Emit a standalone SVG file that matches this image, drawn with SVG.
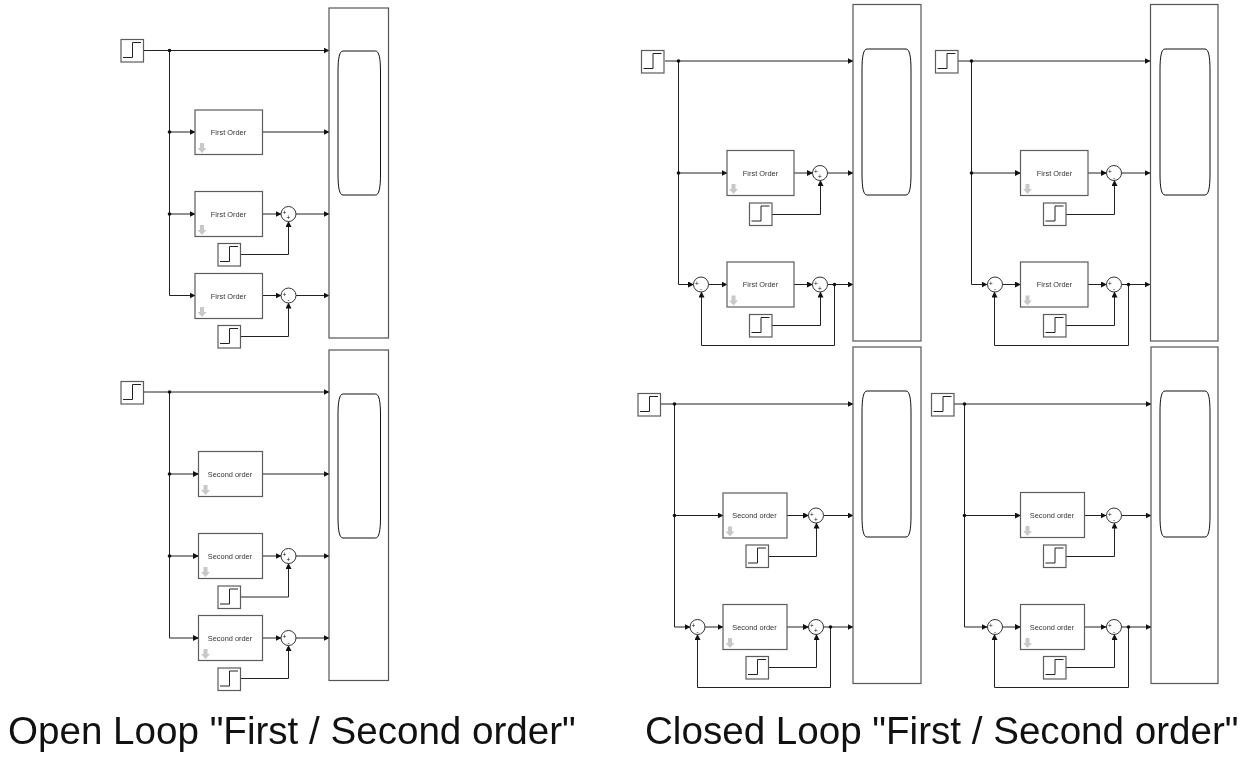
<svg xmlns="http://www.w3.org/2000/svg" width="1253" height="757" viewBox="0 0 1253 757">
<style>
text{font-family:"Liberation Sans",Arial,sans-serif}
.lbl{font-size:7.4px;text-anchor:middle;fill:#333;filter:url(#gs)}
.title{font-size:38.6px;fill:#111;filter:url(#gs)}
.blk{fill:#fff;stroke:#5c5c5c;stroke-width:1.2}
.scope{fill:#fff;stroke:#555;stroke-width:1.2}
.scr{fill:#fff;stroke:#111;stroke-width:1}
.w{fill:none;stroke:#222;stroke-width:1}
.sum{fill:#fff;stroke:#333;stroke-width:1}
.sg{font-size:6.5px;text-anchor:middle;fill:#111;filter:url(#gs)}
.ar{fill:#c8c8c8}
</style>
<defs>
<filter id="gs" x="-20%" y="-40%" width="140%" height="180%" color-interpolation-filters="sRGB"><feOffset dx="0" dy="0"/></filter>
<marker id="a" markerUnits="userSpaceOnUse" markerWidth="6" markerHeight="6" refX="5.500" refY="3" orient="auto"><path d="M0 0L6 3L0 6z" fill="#111"/></marker>
<symbol id="st" overflow="visible"><rect class="blk" x=".5" y=".5" width="22.500" height="22.500"/><path d="M2.500 18.500H12V3.500H20.500" fill="none" stroke="#222" stroke-width="1"/></symbol>
<symbol id="dn" overflow="visible"><path class="ar" d="M2 -.5H6V4.500H8.500L4 9.500L-.5 4.500H2z"/></symbol>
</defs>
<g id="connectors" class="w" marker-end="url(#a)">
<path d="M144 50.500H329"/><path d="M169.500 50.500V295.500H195"/><path d="M169.500 132H195"/><path d="M169.500 214H195"/><path d="M262.500 132H329"/><path d="M262.500 214H281"/><path d="M296 214H329"/><path d="M240 254.500H288.500V221.500"/><path d="M262.500 295.500H281"/><path d="M296 295.500H329"/><path d="M240 336.500H288.500V303"/>
<path d="M144 392H329"/><path d="M169.500 392V638H198.500"/><path d="M169.500 474H198.500"/><path d="M169.500 556H198.500"/><path d="M262.500 474H329"/><path d="M262.500 556H281"/><path d="M296 556H329"/><path d="M240 597H288.500V563.500"/><path d="M262.500 638H281"/><path d="M296 638H329"/><path d="M240 678.500H288.500V645.500"/>
<path d="M665 61H853"/><path d="M678.500 61V284.500H693.500"/><path d="M678.500 173H727"/><path d="M794 173H812.500"/><path d="M827.500 173H853"/><path d="M772 214.500H820.500V180.500"/><path d="M708.500 284.500H727"/><path d="M794 284.500H812.500"/><path d="M827.500 284.500H853"/><path d="M772 325.500H820.500V292"/><path d="M834.500 284.500V345.500H701.500V292"/>
<path d="M958 61H1150"/><path d="M971.500 61V284.500H987"/><path d="M971.500 173H1020.500"/><path d="M1088 173H1106.500"/><path d="M1121.500 173H1150"/><path d="M1066 214.500H1114.500V180.500"/><path d="M1002 284.500H1020.500"/><path d="M1088 284.500H1106.500"/><path d="M1121.500 284.500H1150"/><path d="M1066 325.500H1114.500V292"/><path d="M1128.500 284.500V345.500H994.500V292"/>
<path d="M660.500 404H853"/><path d="M674.500 404V627H690"/><path d="M674.500 515.500H723"/><path d="M787 515.500H808.500"/><path d="M823.500 515.500H853"/><path d="M768.500 556.500H816.500V523"/><path d="M705 627H723"/><path d="M787 627H808.500"/><path d="M823.500 627H853"/><path d="M768.500 667.500H816.500V634.500"/><path d="M830.500 627V687.500H697.500V634.500"/>
<path d="M954 404H1151"/><path d="M964.500 404V627H987"/><path d="M964.500 515.500H1020.500"/><path d="M1084.500 515.500H1106"/><path d="M1121.500 515.500H1151"/><path d="M1066 556.500H1114.500V523"/><path d="M1002.500 627H1020.500"/><path d="M1084.500 627H1106"/><path d="M1121.500 627H1151"/><path d="M1066 667.500H1114.500V634.500"/><path d="M1128.500 627V687.500H994.500V634.500"/>
</g>
<g id="junctions" fill="#111">
<circle cx="169.500" cy="50.500" r="1.800"/><circle cx="169.500" cy="132" r="1.800"/><circle cx="169.500" cy="214" r="1.800"/>
<circle cx="169.500" cy="392" r="1.800"/><circle cx="169.500" cy="474" r="1.800"/><circle cx="169.500" cy="556" r="1.800"/>
<circle cx="678.500" cy="61" r="1.800"/><circle cx="678.500" cy="173" r="1.800"/><circle cx="834.500" cy="284.500" r="1.800"/>
<circle cx="971.500" cy="61" r="1.800"/><circle cx="971.500" cy="173" r="1.800"/><circle cx="1128.500" cy="284.500" r="1.800"/>
<circle cx="674.500" cy="404" r="1.800"/><circle cx="674.500" cy="515.500" r="1.800"/><circle cx="830.500" cy="627" r="1.800"/>
<circle cx="964.500" cy="404" r="1.800"/><circle cx="964.500" cy="515.500" r="1.800"/><circle cx="1128.500" cy="627" r="1.800"/>
</g>
<g id="scope-ol1"><rect class="scope" x="329" y="8" width="59.500" height="330"/><path class="scr" d="M343 51H375.500C379 51 380.500 58 380.500 72V174C380.500 188 379 195 375.500 195H343C339.500 195 338 188 338 174V72C338 58 339.500 51 343 51Z"/></g>
<g id="scope-ol2"><rect class="scope" x="329" y="350" width="59.500" height="330.500"/><path class="scr" d="M343 394H375.500C379 394 380.500 401 380.500 415V517C380.500 531 379 538 375.500 538H343C339.500 538 338 531 338 517V415C338 401 339.500 394 343 394Z"/></g>
<g id="scope-cl1"><rect class="scope" x="853" y="4.500" width="68" height="336.500"/><path class="scr" d="M867 49H906C909.500 49 911 56 911 70V174C911 188 909.500 195 906 195H867C863.500 195 862 188 862 174V70C862 56 863.500 49 867 49Z"/></g>
<g id="scope-cl2"><rect class="scope" x="1150.500" y="4.500" width="67.500" height="336.500"/><path class="scr" d="M1165 49H1205C1208.500 49 1210 56 1210 70V174C1210 188 1208.500 195 1205 195H1165C1161.500 195 1160 188 1160 174V70C1160 56 1161.500 49 1165 49Z"/></g>
<g id="scope-cl3"><rect class="scope" x="853" y="347" width="68" height="336.500"/><path class="scr" d="M867 391H906C909.500 391 911 398 911 412V516C911 530 909.500 537 906 537H867C863.500 537 862 530 862 516V412C862 398 863.500 391 867 391Z"/></g>
<g id="scope-cl4"><rect class="scope" x="1151" y="347" width="67" height="336.500"/><path class="scr" d="M1165 391H1205C1208.500 391 1210 398 1210 412V516C1210 530 1208.500 537 1205 537H1165C1161.500 537 1160 530 1160 516V412C1160 398 1161.500 391 1165 391Z"/></g>
<g id="step1"><use href="#st" x="120.500" y="39"/></g>
<g id="step2"><use href="#st" x="217.500" y="243"/></g>
<g id="step3"><use href="#st" x="217.500" y="325"/></g>
<g id="step4"><use href="#st" x="120.500" y="381"/></g>
<g id="step5"><use href="#st" x="217.500" y="585.500"/></g>
<g id="step6"><use href="#st" x="217.500" y="667.500"/></g>
<g id="step7"><use href="#st" x="641" y="50"/></g>
<g id="step8"><use href="#st" x="749" y="202.500"/></g>
<g id="step9"><use href="#st" x="749" y="314"/></g>
<g id="step10"><use href="#st" x="935" y="50"/></g>
<g id="step11"><use href="#st" x="1043" y="202.500"/></g>
<g id="step12"><use href="#st" x="1043" y="314"/></g>
<g id="step13"><use href="#st" x="637.500" y="393"/></g>
<g id="step14"><use href="#st" x="745.500" y="544.500"/></g>
<g id="step15"><use href="#st" x="745.500" y="656"/></g>
<g id="step16"><use href="#st" x="931" y="393"/></g>
<g id="step17"><use href="#st" x="1043" y="544.500"/></g>
<g id="step18"><use href="#st" x="1043" y="656"/></g>
<g id="fo1"><rect class="blk" x="195" y="110" width="67.500" height="44.500"/><text class="lbl" x="228.500" y="134.500">First Order</text><use href="#dn" x="198" y="143.500"/></g>
<g id="fo2"><rect class="blk" x="195" y="191.500" width="67.500" height="45"/><text class="lbl" x="228.500" y="216.500">First Order</text><use href="#dn" x="198" y="225.500"/></g>
<g id="fo3"><rect class="blk" x="195" y="273.500" width="67.500" height="45"/><text class="lbl" x="228.500" y="298.500">First Order</text><use href="#dn" x="198" y="307.500"/></g>
<g id="so1"><rect class="blk" x="198.500" y="451.500" width="64" height="45"/><text class="lbl" x="230" y="476.500">Second order</text><use href="#dn" x="201.500" y="485.500"/></g>
<g id="so2"><rect class="blk" x="198.500" y="533.500" width="64" height="45"/><text class="lbl" x="230" y="558.500">Second order</text><use href="#dn" x="201.500" y="567.500"/></g>
<g id="so3"><rect class="blk" x="198.500" y="615.500" width="64" height="45"/><text class="lbl" x="230" y="640.500">Second order</text><use href="#dn" x="201.500" y="649.500"/></g>
<g id="fo4"><rect class="blk" x="727" y="150.500" width="67" height="45"/><text class="lbl" x="760.500" y="175.500">First Order</text><use href="#dn" x="729.500" y="184.500"/></g>
<g id="fo5"><rect class="blk" x="727" y="262" width="67" height="45"/><text class="lbl" x="760.500" y="287">First Order</text><use href="#dn" x="729.500" y="296"/></g>
<g id="fo6"><rect class="blk" x="1020.500" y="150.500" width="67.500" height="45"/><text class="lbl" x="1054.500" y="175.500">First Order</text><use href="#dn" x="1023.500" y="184.500"/></g>
<g id="fo7"><rect class="blk" x="1020.500" y="262" width="67.500" height="45"/><text class="lbl" x="1054.500" y="287">First Order</text><use href="#dn" x="1023.500" y="296"/></g>
<g id="so4"><rect class="blk" x="723" y="493" width="64" height="45"/><text class="lbl" x="754.500" y="518">Second order</text><use href="#dn" x="726" y="527"/></g>
<g id="so5"><rect class="blk" x="723" y="604.500" width="64" height="45"/><text class="lbl" x="754.500" y="629.500">Second order</text><use href="#dn" x="726" y="638.500"/></g>
<g id="so6"><rect class="blk" x="1020.500" y="492.500" width="64" height="45"/><text class="lbl" x="1052" y="518">Second order</text><use href="#dn" x="1023.500" y="526.500"/></g>
<g id="so7"><rect class="blk" x="1020.500" y="604.500" width="64" height="45"/><text class="lbl" x="1052" y="629.500">Second order</text><use href="#dn" x="1023.500" y="638.500"/></g>
<g id="sum1" transform="translate(288.500,214)"><circle class="sum" r="7.500"/><text class="sg" x="-4" y="1.300">+</text><text class="sg" y="6.300">+</text></g>
<g id="sum2" transform="translate(288.500,295.500)"><circle class="sum" r="7.500"/><text class="sg" x="-4" y="1.300">+</text><text class="sg" y="6.600">-</text></g>
<g id="sum3" transform="translate(288.500,556)"><circle class="sum" r="7.500"/><text class="sg" x="-4" y="1.300">+</text><text class="sg" y="6.300">+</text></g>
<g id="sum4" transform="translate(288.500,638)"><circle class="sum" r="7.500"/><text class="sg" x="-4" y="1.300">+</text><text class="sg" y="6.600">-</text></g>
<g id="sum5" transform="translate(820,173)"><circle class="sum" r="7.500"/><text class="sg" x="-4" y="1.300">+</text><text class="sg" y="6.300">+</text></g>
<g id="sum6" transform="translate(701,284.500)"><circle class="sum" r="7.500"/><text class="sg" x="-4" y="1.300">+</text><text class="sg" y="6.600">-</text></g>
<g id="sum7" transform="translate(820,284.500)"><circle class="sum" r="7.500"/><text class="sg" x="-4" y="1.300">+</text><text class="sg" y="6.300">+</text></g>
<g id="sum8" transform="translate(1114,173)"><circle class="sum" r="7.500"/><text class="sg" x="-4" y="1.300">+</text><text class="sg" y="6.600">-</text></g>
<g id="sum9" transform="translate(995,284.500)"><circle class="sum" r="7.500"/><text class="sg" x="-4" y="1.300">+</text><text class="sg" y="6.600">-</text></g>
<g id="sum10" transform="translate(1114,284.500)"><circle class="sum" r="7.500"/><text class="sg" x="-4" y="1.300">+</text><text class="sg" y="6.600">-</text></g>
<g id="sum11" transform="translate(816,515.500)"><circle class="sum" r="7.500"/><text class="sg" x="-4" y="1.300">+</text><text class="sg" y="6.300">+</text></g>
<g id="sum12" transform="translate(697.500,627)"><circle class="sum" r="7.500"/><text class="sg" x="-4" y="1.300">+</text><text class="sg" y="6.600">-</text></g>
<g id="sum13" transform="translate(816,627)"><circle class="sum" r="7.500"/><text class="sg" x="-4" y="1.300">+</text><text class="sg" y="6.300">+</text></g>
<g id="sum14" transform="translate(1114,515.500)"><circle class="sum" r="7.500"/><text class="sg" x="-4" y="1.300">+</text><text class="sg" y="6.600">-</text></g>
<g id="sum15" transform="translate(995,627)"><circle class="sum" r="7.500"/><text class="sg" x="-4" y="1.300">+</text><text class="sg" y="6.600">-</text></g>
<g id="sum16" transform="translate(1114,627)"><circle class="sum" r="7.500"/><text class="sg" x="-4" y="1.300">+</text><text class="sg" y="6.600">-</text></g>
<text class="title" x="8" y="744">Open Loop "First / Second order"</text>
<text class="title" x="645" y="744">Closed Loop "First / Second order"</text>
</svg>
